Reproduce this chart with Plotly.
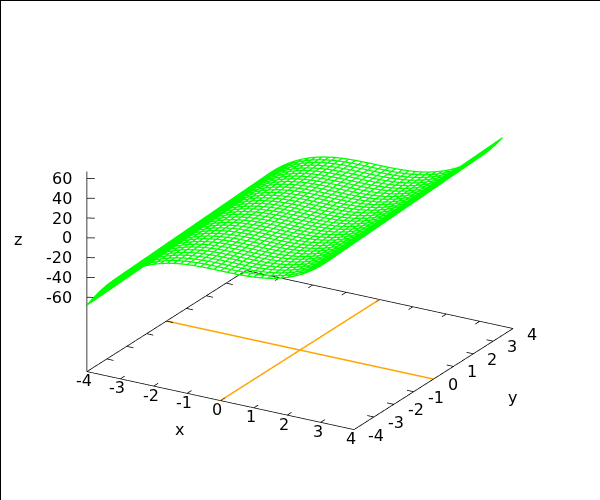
import plotly.graph_objects as go

# sample positions along each horizontal axis
x_samples = [-4.0,-3.8,-3.6,-3.4,-3.2,-3.0,-2.8,-2.6,-2.4,-2.2,-2.0,-1.8,-1.6,-1.4,-1.2,-1.0,-0.8,-0.6,-0.4,-0.2,
             0.0,0.2,0.4,0.6,0.8,1.0,1.2,1.4,1.6,1.8,2.0,2.2,2.4,2.6,2.8,3.0,3.2,3.4,3.6,3.8]
y_samples = list(x_samples)
# height contributed by x at each sample
x_rise = [-64.0,-54.87,-46.66,-39.3,-32.77,-27.0,-21.95,-17.58,-13.82,-10.65,-8.0,-5.83,-4.1,-2.74,-1.73,-1.0,-0.51,-0.22,-0.06,-0.01,
          0.0,0.01,0.06,0.22,0.51,1.0,1.73,2.74,4.1,5.83,8.0,10.65,13.82,17.58,21.95,27.0,32.77,39.3,46.66,54.87]
xy_ticks = [-4,-3,-2,-1,0,1,2,3,4]
z_ticks = [-60,-40,-20,0,20,40,60]
z_top = 67
z_base = -135

GREEN = "#00ff00"
ORANGE = "#ffa500"
FONT = "DejaVu Sans"
TEXT = dict(family=FONT, size=16, color="black")

mx, my, mz = [], [], []
for y in y_samples:
    for i, x in enumerate(x_samples):
        mx.append(x); my.append(y); mz.append(x_rise[i] + y)
    mx.append(None); my.append(None); mz.append(None)
for i, x in enumerate(x_samples):
    for y in y_samples:
        mx.append(x); my.append(y); mz.append(x_rise[i] + y)
    mx.append(None); my.append(None); mz.append(None)

# frame and tick marks
fx, fy, fz = [], [], []
def seg(x0, y0, z0, x1, y1, z1):
    fx.extend([x0, x1, None]); fy.extend([y0, y1, None]); fz.extend([z0, z1, None])

seg(-4, -4, z_base, 4, -4, z_base)
seg(4, -4, z_base, 4, 4, z_base)
seg(4, 4, z_base, -4, 4, z_base)
seg(-4, 4, z_base, -4, -4, z_base)
seg(-4, -4, z_base, -4, -4, z_top)
for t in xy_ticks[1:-1]:
    seg(t, -4, z_base, t, -3.78, z_base)
    seg(t, 4, z_base, t, 3.78, z_base)
    seg(-4, t, z_base, -3.8, t, z_base)
    seg(4, t, z_base, 3.8, t, z_base)
for t in z_ticks:
    seg(-4, -4, t, -3.82, -3.9, t)

fig = go.Figure()
fig.add_trace(go.Scatter3d(x=fx, y=fy, z=fz, mode="lines", line=dict(color="black", width=1.5), hoverinfo="skip"))
fig.add_trace(go.Scatter3d(x=[0, 0], y=[-4, 4], z=[z_base, z_base], mode="lines", line=dict(color=ORANGE, width=3), hoverinfo="skip"))
fig.add_trace(go.Scatter3d(x=[-4, 4], y=[0, 0], z=[z_base, z_base], mode="lines", line=dict(color=ORANGE, width=3), hoverinfo="skip"))
fig.add_trace(go.Scatter3d(x=mx, y=my, z=mz, mode="lines", line=dict(color=GREEN, width=2.5), hoverinfo="skip"))

scene_notes = []
for t in xy_ticks:
    scene_notes.append(dict(x=t, y=-4, z=z_base, text=str(t), showarrow=False, font=TEXT,
                            xanchor="center", yanchor="middle", xshift=-3, yshift=-9))
    scene_notes.append(dict(x=4, y=t, z=z_base, text=str(t), showarrow=False, font=TEXT,
                            xanchor="left", yanchor="middle", xshift=12, yshift=-5.5))
for t in z_ticks:
    scene_notes.append(dict(x=-4, y=-4, z=t, text=str(t), showarrow=False, font=TEXT,
                            xanchor="right", yanchor="middle", xshift=-13))

def axis(rng):
    return dict(range=rng, autorange=False, visible=False)

def title(text, px, py):
    return dict(text=text, x=px/600, y=1-py/500, xref="paper", yref="paper", showarrow=False, font=TEXT,
                xanchor="center", yanchor="middle")

pad_xy = 0.1
pad_z = 2.5
zoom = 1.2375
e = (0.4685, -0.8014, 0.3716)
fig.update_layout(
    width=600, height=500, margin=dict(l=0, r=0, t=0, b=0), paper_bgcolor="white", showlegend=False,
    scene=dict(domain=dict(x=[0, 1], y=[0, 1]),
               xaxis=axis([-4-pad_xy, 4+pad_xy]), yaxis=axis([-4-pad_xy, 4+pad_xy]), zaxis=axis([z_base-pad_z, z_top+pad_z]),
               aspectmode="manual",
               aspectratio=dict(x=zoom*(8+2*pad_xy)/8, y=zoom*1.0185*(8+2*pad_xy)/8, z=zoom*0.6967*(z_top-z_base+2*pad_z)/(z_top-z_base)),
               annotations=scene_notes,
               camera=dict(projection=dict(type="orthographic"), up=dict(x=0, y=0, z=1),
                           center=dict(x=0, y=0, z=0), eye=dict(x=e[0]*2, y=e[1]*2, z=e[2]*2))),
    annotations=[title("x", 179, 429), title("y", 512, 397), title("z", 18, 239)],
    shapes=[
        dict(type="line", xref="paper", yref="paper", x0=0, x1=1, y0=1, y1=1, line=dict(color="black", width=2)),
        dict(type="line", xref="paper", yref="paper", x0=0, x1=0, y0=0, y1=1, line=dict(color="black", width=2)),
    ],
)
fig.write_html("out.html", config=dict(displayModeBar=False),
               post_script="document.body.style.margin='0';document.body.style.overflow='hidden';")
